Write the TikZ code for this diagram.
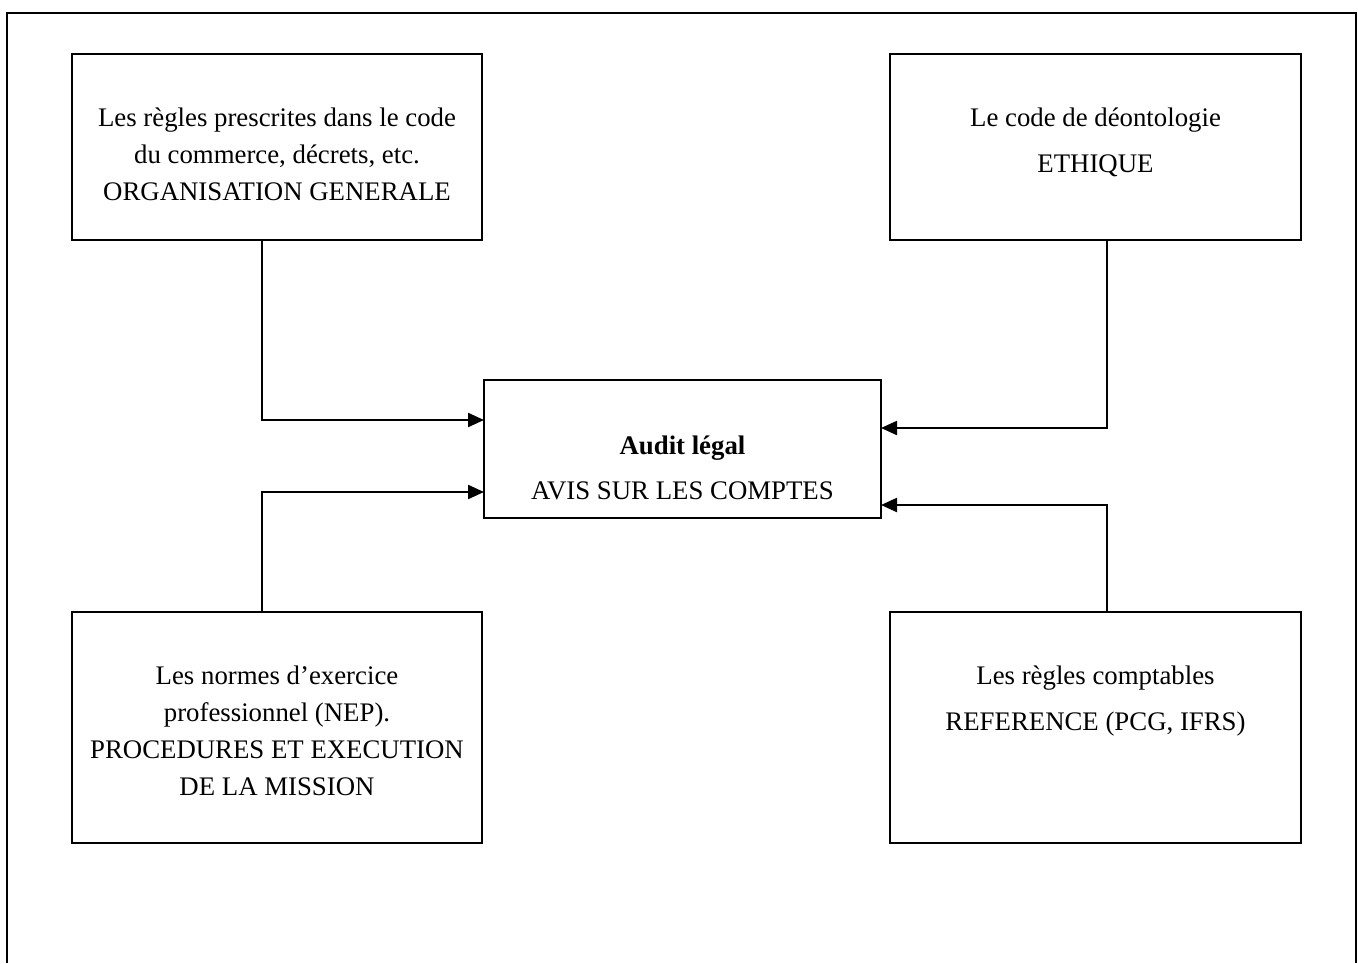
\documentclass[tikz,border=0pt]{standalone}
\usepackage{fontspec}
\setmainfont{Liberation Serif}
\usetikzlibrary{arrows.meta}
\begin{document}
\begin{tikzpicture}[x=0.5pt,y=-0.5pt,
  box/.style={draw, line width=1.1pt, inner sep=0pt, outer sep=0pt},
  txt/.style={font=\fontsize{13.4}{18.5}\selectfont, align=center, inner sep=0pt, anchor=north},
  arr/.style={line width=1.1pt, -{Triangle[length=8pt,width=7pt]}},
  frame/.style={line width=1.1pt}
]
\useasboundingbox (0,0) rectangle (1358,963);
\draw[frame] (7,963) -- (7,13) -- (1356,13) -- (1356,963);

\node[box, minimum width=205pt, minimum height=93pt] (tl) at (277,147) {};
\node[box, minimum width=205.5pt, minimum height=93pt] (tr) at (1095.5,147) {};
\node[box, minimum width=198.5pt, minimum height=69pt] (ctr) at (682.5,449) {};
\node[box, minimum width=205pt, minimum height=115.5pt] (bl) at (277,727.5) {};
\node[box, minimum width=205.5pt, minimum height=115.5pt] (br) at (1095.5,727.5) {};

\node[txt] (tlt) at (277,100) {\strut Les règles prescrites dans le code\\du commerce, décrets, etc.\\ORGANISATION GENERALE};
\node[txt] (trt) at (1095.5,100) {\strut Le code de déontologie\\[4.5pt]ETHIQUE};
\node[txt] (ctrt) at (682.5,428) {\strut\textbf{Audit légal}\\[4pt]AVIS SUR LES COMPTES};
\node[txt] (blt) at (277,658) {\strut Les normes d’exercice\\professionnel (NEP).\\PROCEDURES ET EXECUTION\\DE LA MISSION};
\node[txt] (brt) at (1095.5,658) {\strut Les règles comptables\\[4.5pt]REFERENCE (PCG, IFRS)};

\coordinate (a1) at (262,420);
\coordinate (a2) at (262,492);
\coordinate (a3) at (1107,428);
\coordinate (a4) at (1107,505);
\draw[arr] (tl.south -| a1) -- (a1) -- (ctr.west |- a1);
\draw[arr] (bl.north -| a2) -- (a2) -- (ctr.west |- a2);
\draw[arr] (tr.south -| a3) -- (a3) -- (ctr.east |- a3);
\draw[arr] (br.north -| a4) -- (a4) -- (ctr.east |- a4);
\end{tikzpicture}
\end{document}
